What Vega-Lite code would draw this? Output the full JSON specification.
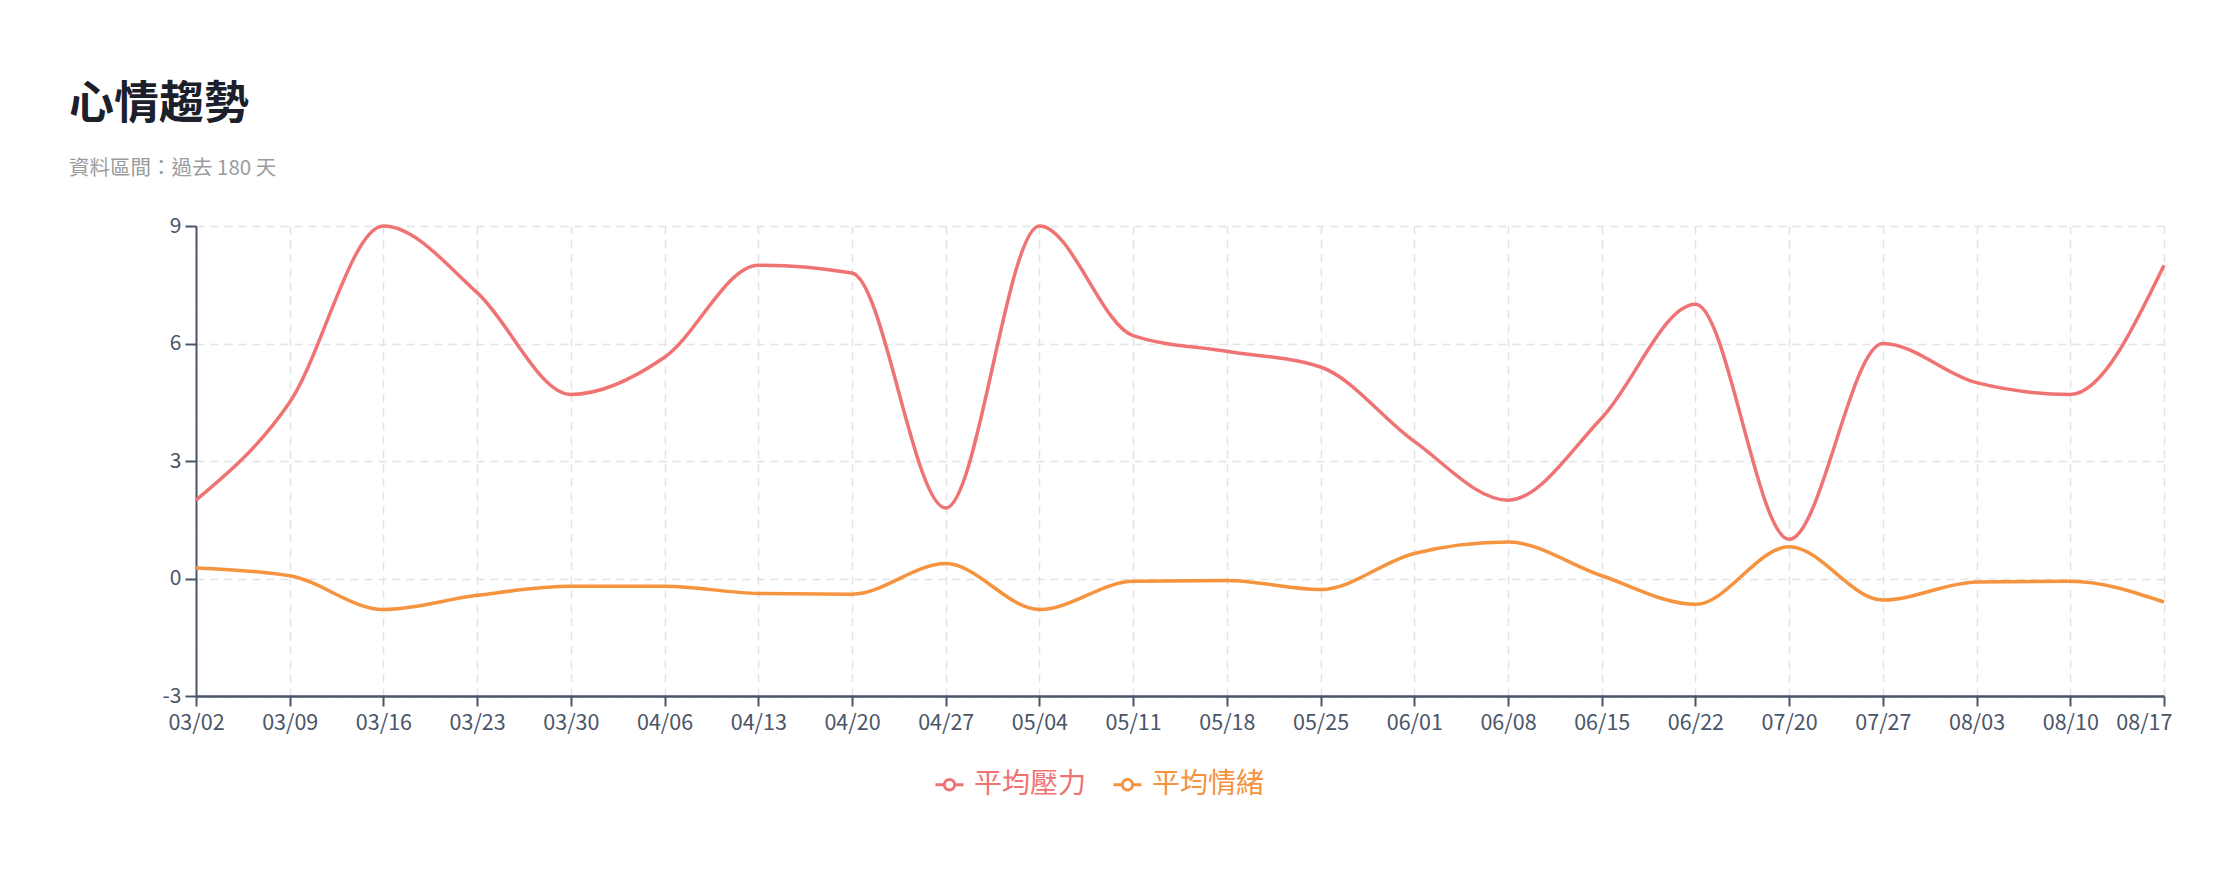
{
  "$schema": "https://vega.github.io/schema/vega-lite/v6.json",
  "width": 1968,
  "height": 470,
  "autosize": {"type": "none"},
  "padding": {"left": 196, "top": 226, "right": 76, "bottom": 186},
  "background": "white",
  "config": {"view": {"stroke": null}},
  "title": {
    "text": "心情趨勢",
    "subtitle": "資料區間：過去 180 天",
    "anchor": "start",
    "frame": "group",
    "dx": -127,
    "offset": 36,
    "font": "Noto Sans CJK TC",
    "fontSize": 45,
    "fontWeight": "bold",
    "color": "#1c202b",
    "subtitleFont": "Noto Sans CJK TC",
    "subtitleFontSize": 20.5,
    "subtitleColor": "#9b9b9b",
    "subtitlePadding": 31
  },
  "data": {
    "values": [
      {"date": "03/02", "series": "平均壓力", "value": 2.0},
      {"date": "03/09", "series": "平均壓力", "value": 4.5},
      {"date": "03/16", "series": "平均壓力", "value": 9.0},
      {"date": "03/23", "series": "平均壓力", "value": 7.3},
      {"date": "03/30", "series": "平均壓力", "value": 4.7},
      {"date": "04/06", "series": "平均壓力", "value": 5.65},
      {"date": "04/13", "series": "平均壓力", "value": 8.0},
      {"date": "04/20", "series": "平均壓力", "value": 7.8},
      {"date": "04/27", "series": "平均壓力", "value": 1.8},
      {"date": "05/04", "series": "平均壓力", "value": 9.0},
      {"date": "05/11", "series": "平均壓力", "value": 6.2},
      {"date": "05/18", "series": "平均壓力", "value": 5.8},
      {"date": "05/25", "series": "平均壓力", "value": 5.4},
      {"date": "06/01", "series": "平均壓力", "value": 3.5},
      {"date": "06/08", "series": "平均壓力", "value": 2.0},
      {"date": "06/15", "series": "平均壓力", "value": 4.1},
      {"date": "06/22", "series": "平均壓力", "value": 7.0},
      {"date": "07/20", "series": "平均壓力", "value": 1.0},
      {"date": "07/27", "series": "平均壓力", "value": 6.0},
      {"date": "08/03", "series": "平均壓力", "value": 5.0},
      {"date": "08/10", "series": "平均壓力", "value": 4.7},
      {"date": "08/17", "series": "平均壓力", "value": 8.0},
      {"date": "03/02", "series": "平均情緒", "value": 0.27},
      {"date": "03/09", "series": "平均情緒", "value": 0.07},
      {"date": "03/16", "series": "平均情緒", "value": -0.79},
      {"date": "03/23", "series": "平均情緒", "value": -0.43},
      {"date": "03/30", "series": "平均情緒", "value": -0.2},
      {"date": "04/06", "series": "平均情緒", "value": -0.2},
      {"date": "04/13", "series": "平均情緒", "value": -0.38},
      {"date": "04/20", "series": "平均情緒", "value": -0.4},
      {"date": "04/27", "series": "平均情緒", "value": 0.38},
      {"date": "05/04", "series": "平均情緒", "value": -0.79},
      {"date": "05/11", "series": "平均情緒", "value": -0.07},
      {"date": "05/18", "series": "平均情緒", "value": -0.05},
      {"date": "05/25", "series": "平均情緒", "value": -0.28},
      {"date": "06/01", "series": "平均情緒", "value": 0.64},
      {"date": "06/08", "series": "平均情緒", "value": 0.93},
      {"date": "06/15", "series": "平均情緒", "value": 0.07},
      {"date": "06/22", "series": "平均情緒", "value": -0.66},
      {"date": "07/20", "series": "平均情緒", "value": 0.81},
      {"date": "07/27", "series": "平均情緒", "value": -0.55},
      {"date": "08/03", "series": "平均情緒", "value": -0.09},
      {"date": "08/10", "series": "平均情緒", "value": -0.07},
      {"date": "08/17", "series": "平均情緒", "value": -0.6}
    ]
  },
  "mark": {"type": "line", "interpolate": "monotone", "strokeWidth": 3.5},
  "encoding": {
    "x": {
      "field": "date",
      "type": "ordinal",
      "sort": null,
      "scale": {"type": "point", "padding": 0},
      "axis": {
        "title": null,
        "labelAngle": 0,
        "labelFont": "Noto Sans CJK TC",
        "labelFontSize": 21.5,
        "labelColor": "#4a5568",
        "labelPadding": 6,
        "labelAlign": {"condition": {"test": "datum.label == '08/17'", "value": "right"}, "value": "center"},
        "labelOffset": {"condition": {"test": "datum.label == '08/17'", "value": 8}, "value": 0},
        "domainColor": "#4a5568",
        "domainWidth": 2.5,
        "tickColor": "#4a5568",
        "tickWidth": 2,
        "tickSize": 10,
        "grid": true,
        "gridColor": "#e3e3e3",
        "gridDash": [8, 6],
        "gridWidth": 1.5
      }
    },
    "y": {
      "field": "value",
      "type": "quantitative",
      "scale": {"domain": [-3, 9], "nice": false, "zero": false},
      "axis": {
        "title": null,
        "values": [-3, 0, 3, 6, 9],
        "labelExpr": "'' + datum.value",
        "labelFont": "Noto Sans CJK TC",
        "labelFontSize": 21,
        "labelColor": "#4a5568",
        "labelPadding": 4,
        "domainColor": "#4a5568",
        "domainWidth": 2,
        "tickColor": "#4a5568",
        "tickWidth": 2,
        "tickSize": 11,
        "grid": true,
        "gridColor": "#e3e3e3",
        "gridDash": [8, 6],
        "gridWidth": 1.5
      }
    },
    "color": {
      "field": "series",
      "type": "nominal",
      "scale": {"domain": ["平均壓力", "平均情緒"], "range": ["#f07373", "#f5933f"]},
      "legend": {
        "title": null,
        "orient": "none",
        "direction": "horizontal",
        "legendX": 738,
        "legendY": 543,
        "symbolType": "M-1,0H-0.37M0.37,0H1M-0.37,0A0.37,0.37,0,1,0,0.37,0A0.37,0.37,0,1,0,-0.37,0",
        "symbolSize": 784,
        "symbolStrokeWidth": 3,
        "labelFont": "Noto Sans CJK TC",
        "labelFontSize": 28,
        "labelOffset": 9,
        "columnPadding": 20,
        "encode": {
          "symbols": {"update": {"fill": {"value": "white"}}},
          "labels": {"update": {"fill": {"scale": "color", "field": "value"}}}
        }
      }
    }
  }
}
